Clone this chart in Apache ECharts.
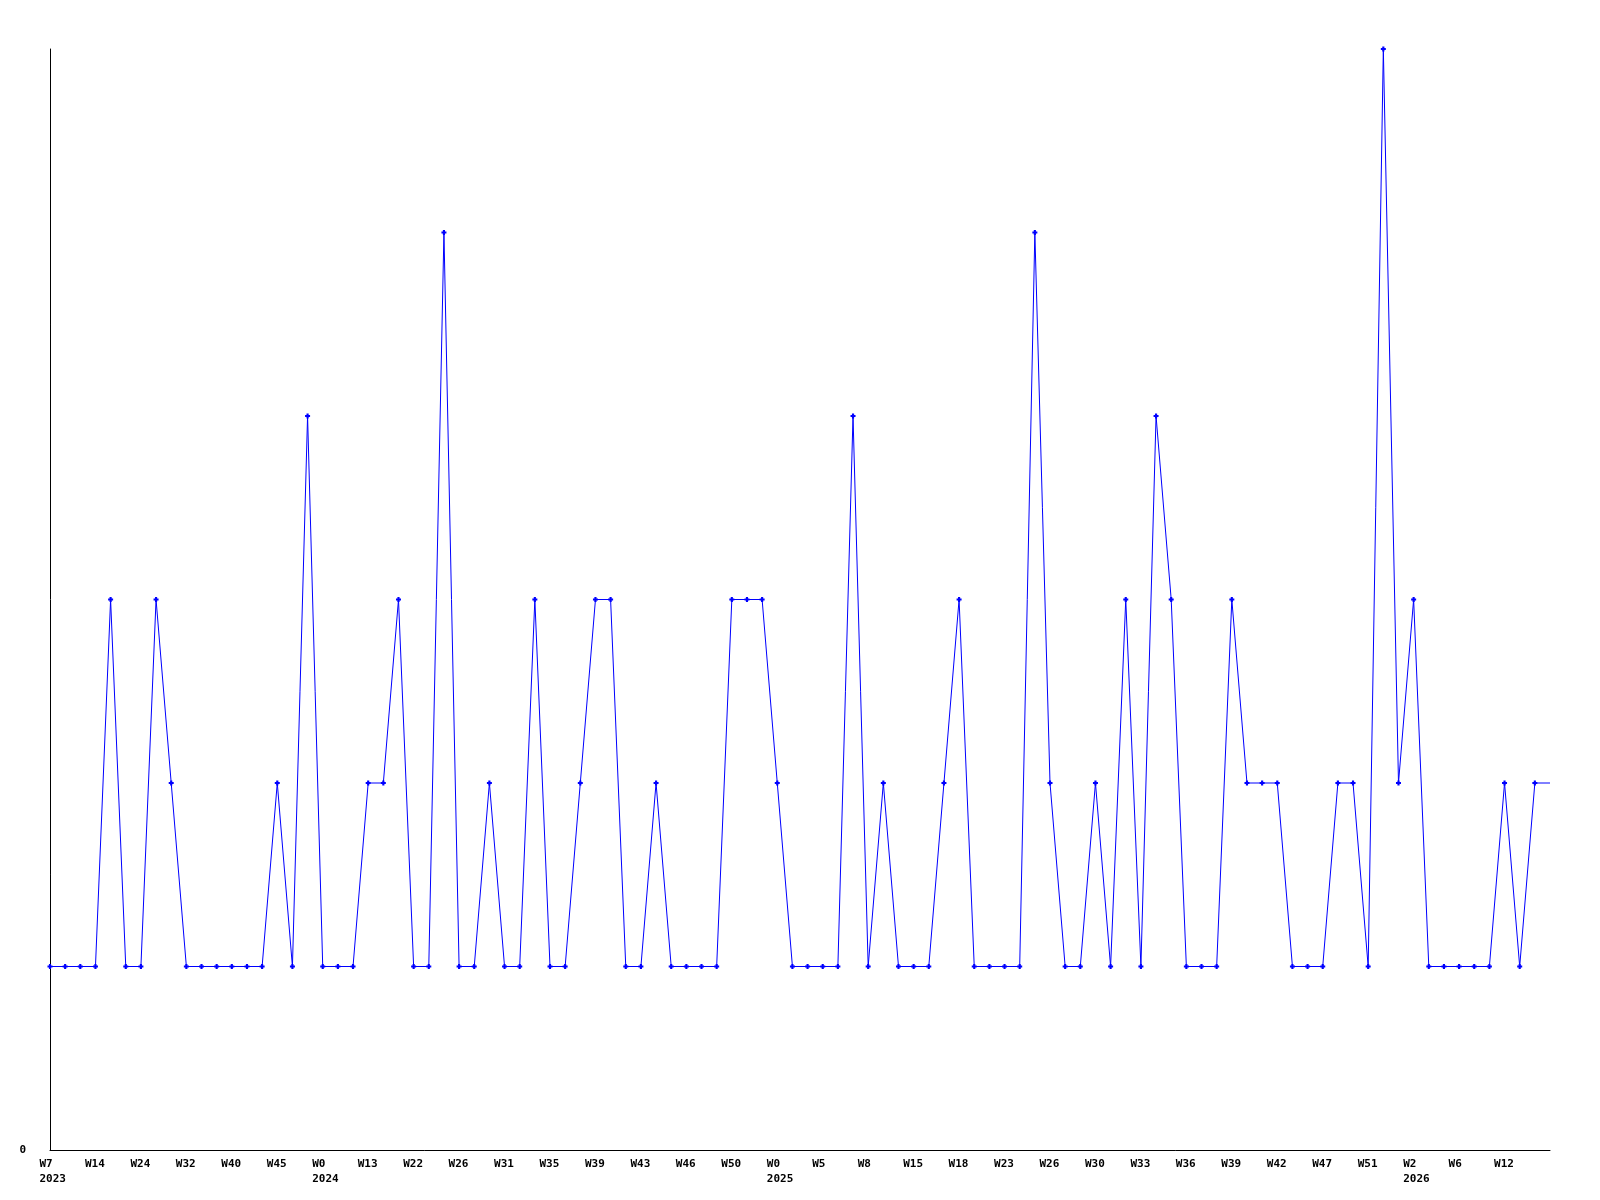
<!DOCTYPE html>
<html>
<head>
<meta charset="utf-8">
<script src="https://cdn.jsdelivr.net/npm/echarts@6/dist/echarts.min.js"></script>
<style>html,body{margin:0;padding:0;background:#fff}#c{width:1600px;height:1200px}</style>
</head>
<body>
<div id="c"></div>
<script>
// Tick labels shown every 3rd week
const tickLabels = ['W7\n2023','W14','W24','W32','W40','W45','W0\n2024','W13','W22','W26','W31','W35','W39','W43','W46','W50','W0\n2025','W5','W8','W15','W18','W23','W26','W30','W33','W36','W39','W42','W47','W51','W2\n2026','W6','W12'];
// Series values, one per week
const values = [
  1,1,1,1,3,1,1,3,2,1,
  1,1,1,1,1,2,1,4,1,1,
  1,2,2,3,1,1,5,1,1,2,
  1,1,3,1,1,2,3,3,1,1,
  2,1,1,1,1,3,3,3,2,1,
  1,1,1,4,1,2,1,1,1,2,
  3,1,1,1,1,5,2,1,1,2,
  1,3,1,4,3,1,1,1,3,2,
  2,2,1,1,1,2,2,1,6,2,
  3,1,1,1,1,1,2,1,2,2
];
const categories = values.map((v, i) => (i % 3 === 0 && tickLabels[i / 3] !== undefined) ? tickLabels[i / 3] : '');
const seriesData = values.map((v, i) => i === values.length - 1 ? { value: v, symbol: 'none' } : v);

const chart = echarts.init(document.getElementById('c'), null, { renderer: 'canvas' });
const font = { fontFamily: 'DejaVu Sans Mono', fontWeight: 'bold', fontSize: 11, color: '#000' };
chart.setOption({
  animation: false,
  backgroundColor: '#fff',
  grid: { left: 50, right: 50, top: 49, bottom: 50, containLabel: false },
  xAxis: {
    type: 'category',
    data: categories,
    boundaryGap: false,
    axisLine: { show: true, lineStyle: { color: '#000', width: 1 } },
    axisTick: { show: false },
    splitLine: { show: false },
    axisLabel: Object.assign({
      interval: 2, margin: 7, lineHeight: 15, align: 'center', verticalAlign: 'top',
      formatter: v => v.split('\n').map(s => '{a|' + s + '}').join('\n'),
      rich: { a: Object.assign({ width: 21, align: 'left', lineHeight: 15 }, font) }
    }, font)
  },
  yAxis: {
    type: 'value',
    min: 0,
    max: 6,
    interval: 6,
    axisLine: { show: true, lineStyle: { color: '#000', width: 1 } },
    axisTick: { show: false },
    splitLine: { show: false },
    axisLabel: Object.assign({ margin: 24, formatter: v => (v === 0 ? '0' : '') }, font)
  },
  series: [{
    type: 'line',
    data: seriesData,
    symbol: 'path://M2,0 L5,0 L5,2 L7,2 L7,5 L5,5 L5,7 L2,7 L2,5 L0,5 L0,2 L2,2 Z',
    symbolSize: 5,
    showAllSymbol: true,
    lineStyle: { color: '#0000ff', width: 1 },
    itemStyle: { color: '#0000ff' },
    clip: false
  }]
});
</script>
</body>
</html>
